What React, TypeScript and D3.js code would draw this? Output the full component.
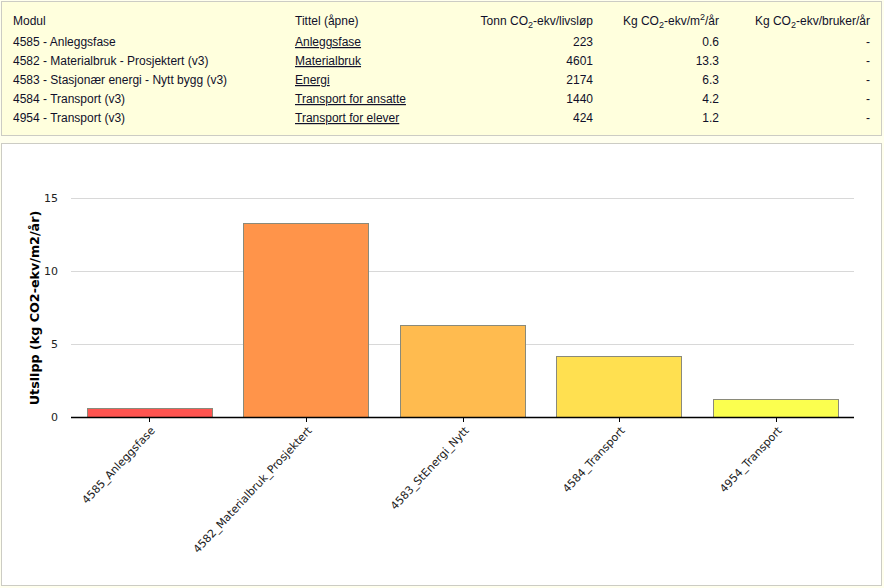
import React from "react";
import * as d3 from "d3";

const modules = [
  "4585 - Anleggsfase",
  "4582 - Materialbruk - Prosjektert (v3)",
  "4583 - Stasjonær energi - Nytt bygg (v3)",
  "4584 - Transport (v3)",
  "4954 - Transport (v3)",
];
const titles = ["Anleggsfase", "Materialbruk", "Energi", "Transport for ansatte", "Transport for elever"];
const tonnLivslop = [223, 4601, 2174, 1440, 424];
const kgM2Ar = [0.6, 13.3, 6.3, 4.2, 1.2];
const kgBrukerAr = ["-", "-", "-", "-", "-"];
const categories = [
  "4585_Anleggsfase",
  "4582_Materialbruk_Prosjektert",
  "4583_StEnergi_Nytt",
  "4584_Transport",
  "4954_Transport",
];
const barColors = ["#FF5450", "#FF944A", "#FFBB4F", "#FFE050", "#FBFF4F"];
const yTicks = [0, 5, 10, 15];

const W = 884;
const H = 588;

export default function App() {
  const x = d3.scaleBand<string>().domain(categories).range([71, 854]).paddingInner(0.2).paddingOuter(0.1);
  const y = d3.scaleLinear().domain([0, 15]).range([417, 198]);
  const tableFont = "'Liberation Sans', Arial, sans-serif";
  const chartFont = "'DejaVu Sans', Verdana, sans-serif";
  const textCol = "#10102a";
  const rowY = (i: number) => 46 + i * 19;

  const header = (label: React.ReactNode, xr: number, anchor: string) => (
    <text x={xr} y={25} textAnchor={anchor} fontSize={12} fill={textCol}>{label}</text>
  );

  return (
    <svg width={W} height={H} style={{ position: "absolute", left: 0, top: 0, display: "block" }} fontFamily={tableFont}>
      <rect x={0} y={0} width={W} height={H} fill="#FFFFEE" />
      {/* table panel */}
      <rect x={1.5} y={1.5} width={880} height={134} fill="#FFFFDD" stroke="#CCCCC4" strokeWidth={1} />
      {header("Modul", 13, "start")}
      {header("Tittel (åpne)", 295, "start")}
      {header(<>Tonn CO<tspan fontSize={9} dy={3}>2</tspan><tspan dy={-3}>-ekv/livsløp</tspan></>, 593, "end")}
      {header(<>Kg CO<tspan fontSize={9} dy={3}>2</tspan><tspan dy={-3}>-ekv/m</tspan><tspan fontSize={9} dy={-5}>2</tspan><tspan dy={5}>/år</tspan></>, 719, "end")}
      {header(<>Kg CO<tspan fontSize={9} dy={3}>2</tspan><tspan dy={-3}>-ekv/bruker/år</tspan></>, 870, "end")}
      {modules.map((m, i) => (
        <g key={m} fontSize={12} fill={textCol}>
          <text x={13} y={rowY(i)}>{m}</text>
          <text x={295} y={rowY(i)} textDecoration="underline">{titles[i]}</text>
          <text x={593} y={rowY(i)} textAnchor="end">{tonnLivslop[i]}</text>
          <text x={719} y={rowY(i)} textAnchor="end">{kgM2Ar[i].toFixed(1)}</text>
          <text x={870} y={rowY(i)} textAnchor="end">{kgBrukerAr[i]}</text>
        </g>
      ))}

      {/* chart panel */}
      <rect x={1.5} y={143.5} width={880} height={442} fill="#FFFFFF" stroke="#CCCCC4" strokeWidth={1} />
      <g fontFamily={chartFont}>
        {yTicks.map((t) => (
          <g key={t}>
            {t !== 0 && <line x1={71} x2={854} y1={Math.round(y(t)) + 0.5} y2={Math.round(y(t)) + 0.5} stroke="#D8D8D8" strokeWidth={1} />}
            <text x={58} y={y(t)} dy="0.35em" textAnchor="end" fontSize={11} fill="#222">{t}</text>
          </g>
        ))}
        {categories.map((c, i) => (
          <rect
            key={c}
            x={Math.round(x(c)!) + 0.5}
            y={Math.round(y(kgM2Ar[i])) + 0.5}
            width={Math.round(x.bandwidth())}
            height={Math.round(y(0)) - Math.round(y(kgM2Ar[i]))}
            fill={barColors[i]}
            stroke="#8A8A7A"
            strokeWidth={1}
          />
        ))}
        <line x1={71} x2={854} y1={417.5} y2={417.5} stroke="#000" strokeWidth={1.5} />
        {categories.map((c) => {
          const cx = Math.round(x(c)! + x.bandwidth() / 2) + 0.5;
          return (
            <g key={c}>
              <line x1={cx} x2={cx} y1={417} y2={422} stroke="#000" strokeWidth={1} />
              <text
                transform={`translate(${cx + 6},${431}) rotate(-47)`}
                textAnchor="end"
                fontSize={11}
                fill="#222"
              >
                {c}
              </text>
            </g>
          );
        })}
        <text
          transform={`translate(39,${308}) rotate(-90)`}
          textAnchor="middle"
          fontSize={12.7}
          fontWeight="bold"
          fill="#000"
        >
          Utslipp (kg CO2-ekv/m2/år)
        </text>
      </g>
    </svg>
  );
}
